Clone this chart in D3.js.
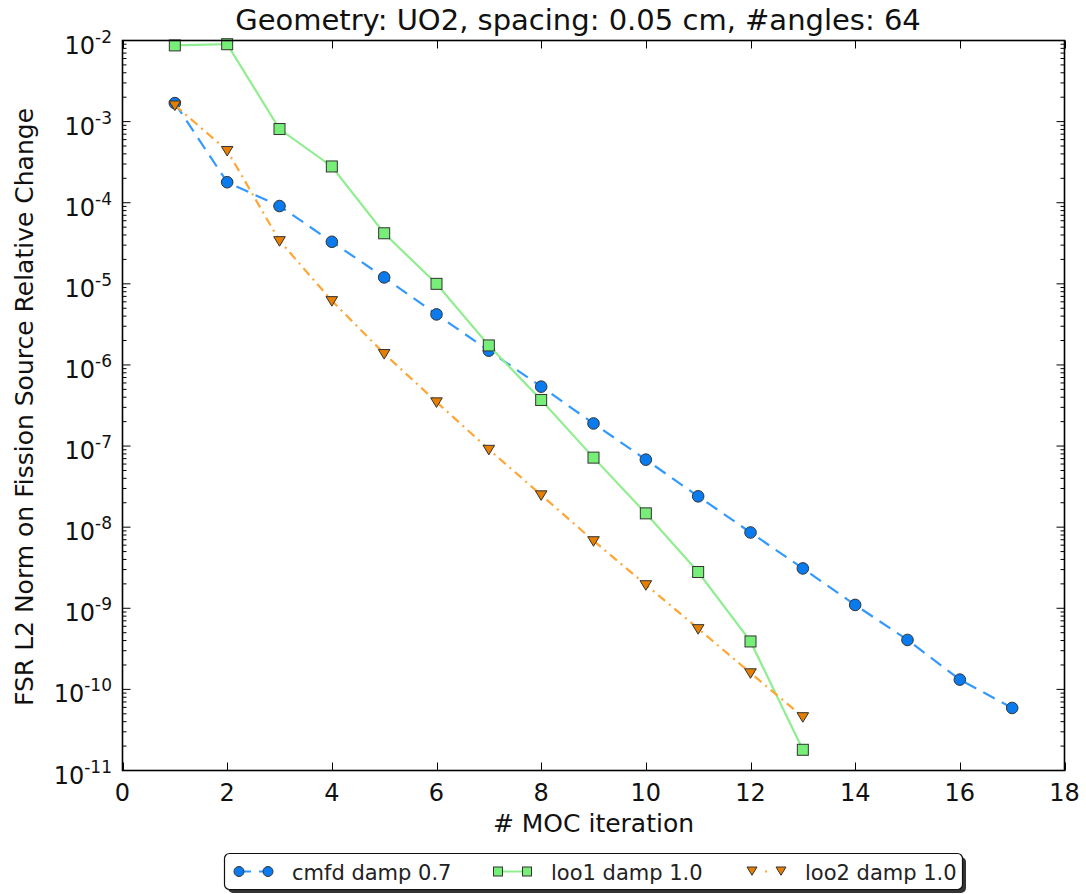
<!DOCTYPE html>
<html><head><meta charset="utf-8">
<script src="https://cdn.jsdelivr.net/npm/d3@7"></script>
<style>body{margin:0;background:#fff;} svg{font-family:"DejaVu Sans",sans-serif;}</style>
</head><body>
<svg id="c" width="1086" height="894"></svg>
<script>
const iterCmfd = [1,2,3,4,5,6,7,8,9,10,11,12,13,14,15,16,17];
const cmfd = [1.69e-3,1.79e-4,9.1e-5,3.3e-5,1.2e-5,4.2e-6,1.5e-6,5.4e-7,1.9e-7,6.8e-8,2.4e-8,8.6e-9,3.1e-9,1.1e-9,4.07e-10,1.32e-10,5.9e-11];
const iterLoo1 = [1,2,3,4,5,6,7,8,9,10,11,12,13];
const loo1 = [8.7e-3,9.0e-3,8.1e-4,2.8e-4,4.2e-5,1.0e-5,1.74e-6,3.7e-7,7.2e-8,1.48e-8,2.8e-9,3.9e-10,1.8e-11];
const iterLoo2 = [1,2,3,4,5,6,7,8,9,10,11,12,13];
const loo2 = [1.6e-3,4.4e-4,3.4e-5,6.2e-6,1.38e-6,3.5e-7,9.1e-8,2.5e-8,6.8e-9,1.95e-9,5.6e-10,1.6e-10,4.6e-11];
const xTicks = [0,2,4,6,8,10,12,14,16,18];
const yExps = [-2,-3,-4,-5,-6,-7,-8,-9,-10,-11];
const seriesNames = ["cmfd damp 0.7","loo1 damp 1.0","loo2 damp 1.0"];

const svg = d3.select("#c");
const L=122.5, R=1064.5, T=40.5, B=770.5;
const x = d3.scaleLinear().domain([0,18]).range([L,R]);
const y = d3.scaleLog().domain([1e-11,1e-2]).range([B,T]);

// ticks
const g = svg.append("g");
xTicks.forEach(t=>{
  const px = Math.round(x(t))+0.5;
  g.append("line").attr("x1",px).attr("x2",px).attr("y1",B).attr("y2",B-8).attr("stroke","#000");
  g.append("line").attr("x1",px).attr("x2",px).attr("y1",T).attr("y2",T+8).attr("stroke","#000");
  g.append("text").attr("x",x(t)).attr("y",B+30).attr("text-anchor","middle").attr("font-size",24).attr("fill","#111").text(t);
});
for(let e=-11;e<=-2;e++){
  const py = y(Math.pow(10,e));
  g.append("line").attr("x1",L).attr("x2",L+8).attr("y1",py).attr("y2",py).attr("stroke","#000");
  g.append("line").attr("x1",R).attr("x2",R-8).attr("y1",py).attr("y2",py).attr("stroke","#000");
  if(e<-2){
    for(let m=2;m<=9;m++){
      const pm = y(m*Math.pow(10,e));
      g.append("line").attr("x1",L).attr("x2",L+4).attr("y1",pm).attr("y2",pm).attr("stroke","#000");
      g.append("line").attr("x1",R).attr("x2",R-4).attr("y1",pm).attr("y2",pm).attr("stroke","#000");
    }
  }
}
yExps.forEach(e=>{
  const py = y(Math.pow(10,e));
  const t = g.append("text").attr("x",112).attr("y",py+13).attr("text-anchor","end").attr("fill","#111").attr("font-size",24);
  t.append("tspan").text("10");
  t.append("tspan").attr("font-size",17).attr("dy",-11).text(String(e));
});

// lines
const line = d3.line().x(d=>x(d[0])).y(d=>y(d[1]));
const dC = iterCmfd.map((v,i)=>[v,cmfd[i]]);
const d1 = iterLoo1.map((v,i)=>[v,loo1[i]]);
const d2 = iterLoo2.map((v,i)=>[v,loo2[i]]);
const cBlue="#3399ff", cBlueM="#0a7bee", cGreen="#90ee90", cGreenM="#77ee77", cOrange="#ffa533", cOrangeM="#e67e00";

function tri(cx,cy,s){return `M${cx-s},${cy-s*0.7}L${cx+s},${cy-s*0.7}L${cx},${cy+s*0.95}Z`;}

svg.append("path").datum(dC).attr("d",line).attr("fill","none").attr("stroke",cBlue).attr("stroke-width",2.2).attr("stroke-dasharray","13,8");
svg.selectAll(".mc").data(dC).enter().append("circle").attr("cx",d=>x(d[0])).attr("cy",d=>y(d[1])).attr("r",5.8).attr("fill",cBlueM).attr("stroke","#333").attr("stroke-width",1);

svg.append("path").datum(d1).attr("d",line).attr("fill","none").attr("stroke",cGreen).attr("stroke-width",2.2);
svg.selectAll(".ms").data(d1).enter().append("rect").attr("x",d=>x(d[0])-5.5).attr("y",d=>y(d[1])-5.5).attr("width",11).attr("height",11).attr("fill",cGreenM).attr("stroke","#333").attr("stroke-width",1);

svg.append("path").datum(d2).attr("d",line).attr("fill","none").attr("stroke",cOrange).attr("stroke-width",2.2).attr("stroke-dasharray","9,5,2,5");
svg.selectAll(".mt").data(d2).enter().append("path").attr("d",d=>tri(x(d[0]),y(d[1]),5.8)).attr("fill",cOrangeM).attr("stroke","#333").attr("stroke-width",1);

// frame
svg.append("rect").attr("x",L).attr("y",T).attr("width",R-L).attr("height",B-T).attr("fill","none").attr("stroke","#000").attr("stroke-width",1.6);

// title & labels
svg.append("text").attr("x",578).attr("y",30).attr("text-anchor","middle").attr("font-size",29).attr("fill","#111").text("Geometry: UO2, spacing: 0.05 cm, #angles: 64");
svg.append("text").attr("x",(L+R)/2).attr("y",832).attr("text-anchor","middle").attr("font-size",25).attr("fill","#111").text("# MOC iteration");
svg.append("text").attr("transform",`translate(33,407) rotate(-90)`).attr("text-anchor","middle").attr("font-size",25).attr("fill","#111").text("FSR L2 Norm on Fission Source Relative Change");

// legend
const lg = svg.append("g");
lg.append("rect").attr("x",228).attr("y",857).attr("width",738).attr("height",36).attr("rx",5).attr("fill","#333");
lg.append("rect").attr("x",224.5).attr("y",853.5).attr("width",738).attr("height",36).attr("rx",5).attr("fill","#fff").attr("stroke","#111").attr("stroke-width",1.2);
const entries = [
  {x:239, name:seriesNames[0], type:"c"},
  {x:498, name:seriesNames[1], type:"s"},
  {x:752, name:seriesNames[2], type:"t"}
];
entries.forEach(en=>{
  const cy=871.5;
  if(en.type==="c"){
    lg.append("line").attr("x1",en.x).attr("x2",en.x+29).attr("y1",cy).attr("y2",cy).attr("stroke",cBlue).attr("stroke-width",2).attr("stroke-dasharray","12,8");
    [en.x,en.x+29].forEach(px=>lg.append("circle").attr("cx",px).attr("cy",cy).attr("r",5).attr("fill",cBlueM).attr("stroke","#333"));
  } else if(en.type==="s"){
    lg.append("line").attr("x1",en.x).attr("x2",en.x+29).attr("y1",cy).attr("y2",cy).attr("stroke",cGreen).attr("stroke-width",2);
    [en.x,en.x+29].forEach(px=>lg.append("rect").attr("x",px-4.5).attr("y",cy-4.5).attr("width",9).attr("height",9).attr("fill",cGreenM).attr("stroke","#333"));
  } else {
    lg.append("line").attr("x1",en.x).attr("x2",en.x+29).attr("y1",cy).attr("y2",cy).attr("stroke",cOrange).attr("stroke-width",2).attr("stroke-dasharray","0,13,2,20");
    [en.x,en.x+29].forEach(px=>lg.append("path").attr("d",tri(px,cy-1,5)).attr("fill",cOrangeM).attr("stroke","#333"));
  }
  lg.append("text").attr("x",en.x+53).attr("y",880).attr("font-size",21).attr("fill","#222").text(en.name);
});
</script>
</body></html>
